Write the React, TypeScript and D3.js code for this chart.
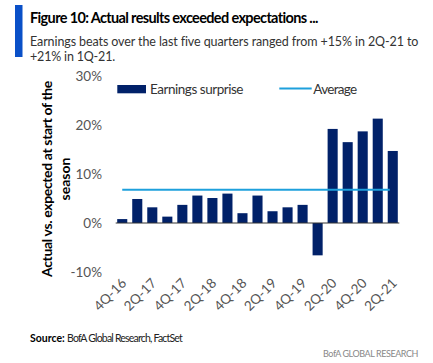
import React, { useLayoutEffect, useRef } from "react";
import { scaleBand, scaleLinear } from "d3";

const quarters = [
  "4Q-16", "1Q-17", "2Q-17", "3Q-17", "4Q-17", "1Q-18", "2Q-18", "3Q-18", "4Q-18",
  "1Q-19", "2Q-19", "3Q-19", "4Q-19", "1Q-20", "2Q-20", "3Q-20", "4Q-20", "1Q-21", "2Q-21",
];
const surprise = [
  0.8, 4.9, 3.2, 1.3, 3.7, 5.6, 5.1, 6.0, 2.0, 5.6, 2.4, 3.2, 3.7, -6.6, 19.2, 16.5, 18.7, 21.3, 14.7,
];
const average = 6.8;
const yTicks = [-10, 0, 10, 20, 30];
const xLabels = ["4Q-16", "2Q-17", "4Q-17", "2Q-18", "4Q-18", "2Q-19", "4Q-19", "2Q-20", "4Q-20", "2Q-21"];

const FONT = "Lato, 'Open Sans', sans-serif";
const NAVY = "#012169";
const LIGHT = "#1ea0dc";

export default function App() {
  const svgRef = useRef<SVGSVGElement>(null);

  // tighten letter spacing so long texts take the reference widths
  useLayoutEffect(() => {
    const nodes = svgRef.current!.querySelectorAll<SVGTextElement>("text[data-w]");
    nodes.forEach((el) => {
      const target = +el.getAttribute("data-w")!;
      const natural = el.getComputedTextLength();
      const n = (el.textContent || "").length;
      el.setAttribute("letter-spacing", String((target - natural) / n));
    });
  }, []);

  const x = scaleBand<string>()
    .domain(quarters)
    .range([115.7, 399.3])
    .paddingInner(0.33)
    .paddingOuter(0.1);
  const y = scaleLinear().domain([-10, 30]).range([272, 76]);

  const first = quarters[0];
  const last = quarters[quarters.length - 1];

  return (
    <svg ref={svgRef} width={433} height={363} style={{ position: "absolute", left: 0, top: 0 }} fontFamily={FONT}>
      <rect x={0} y={0} width={433} height={363} fill="#fff" />
      {/* heading */}
      <rect x={15} y={5} width={7.5} height={52} fill="#0a50c8" />
      <text x={30} y={22.5} fontSize={14.5} fontWeight="bold" fill="#000" data-w={288}>
        Figure 10: Actual results exceeded expectations ...
      </text>
      <text x={30} y={46} fontSize={12.5} fill="#333" data-w={388}>
        Earnings beats over the last five quarters ranged from +15% in 2Q-21 to
      </text>
      <text x={30} y={61} fontSize={12.5} fill="#333" data-w={85}>
        +21% in 1Q-21.
      </text>

      {/* legend */}
      <rect x={117.3} y={85} width={28.7} height={8.3} fill={NAVY} />
      <text x={150} y={93.5} fontSize={13.5} fill="#333" data-w={93}>
        Earnings surprise
      </text>
      <line x1={279.3} x2={311.7} y1={88.5} y2={88.5} stroke={LIGHT} strokeWidth={2} />
      <text x={313.3} y={93.5} fontSize={13.5} fill="#333" data-w={43}>
        Average
      </text>

      {/* y axis */}
      {yTicks.map((t) => (
        <text key={t} x={102} y={y(t)} dy="0.35em" textAnchor="end" fontSize={13.5} fill="#555">
          {t}%
        </text>
      ))}
      <g transform={`translate(53, 179) rotate(-90)`}>
        <text x={-98} y={-1} fontSize={14} fontWeight="bold" fill="#000" data-w={196}>
          Actual vs. expected at start of the
        </text>
        <text x={0} y={17} textAnchor="middle" fontSize={14} fontWeight="bold" fill="#000">
          season
        </text>
      </g>

      {/* bars */}
      {quarters.map((q, i) => {
        const v = surprise[i];
        return (
          <rect
            key={q}
            x={x(q)}
            width={x.bandwidth()}
            y={v >= 0 ? y(v) : y(0)}
            height={Math.abs(y(v) - y(0))}
            fill={NAVY}
          />
        );
      })}
      <line x1={115.7} x2={399.3} y1={y(0)} y2={y(0)} stroke="#333" strokeWidth={1} />
      <line
        x1={x(first)! + x.bandwidth() / 2}
        x2={x(last)! + x.bandwidth() / 2 - 3}
        y1={y(average)}
        y2={y(average)}
        stroke={LIGHT}
        strokeWidth={2}
      />

      {/* x labels */}
      {xLabels.map((l) => {
        const cx = x(l)! + x.bandwidth() / 2 + 5;
        return (
          <text
            key={l}
            transform={`translate(${cx}, 284) rotate(-45)`}
            textAnchor="end"
            fontSize={13.5}
            fill="#555"
          >
            {l}
          </text>
        );
      })}

      {/* footer */}
      <text x={30} y={342} fontSize={10.5} fontWeight="bold" fill="#000">Source:</text>
      <text x={67} y={342} fontSize={10.5} fill="#222" data-w={115}>
        BofA Global Research, FactSet
      </text>
      <text x={323} y={357} fontSize={9} fill="#888" data-w={95}>
        BofA GLOBAL RESEARCH
      </text>
    </svg>
  );
}
